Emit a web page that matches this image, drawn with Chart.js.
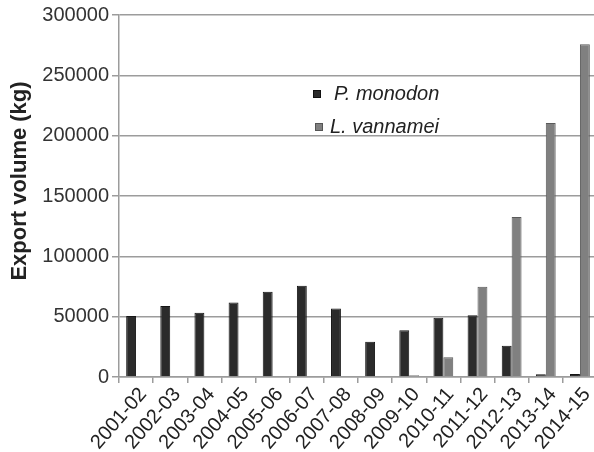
<!DOCTYPE html>
<html>
<head>
<meta charset="utf-8">
<script src="https://cdn.jsdelivr.net/npm/chart.js@4/dist/chart.umd.min.js"></script>
<style>
  html, body { margin: 0; padding: 0; background: #fff; overflow: hidden; }
  #wrap { width: 600px; height: 452px; }
</style>
</head>
<body>
<div id="wrap"><canvas id="c" width="600" height="452"></canvas></div>
<script>
// Shrimp export volume by financial year (kg)
const seasons = ['2001-02', '2002-03', '2003-04', '2004-05', '2005-06', '2006-07', '2007-08',
                 '2008-09', '2009-10', '2010-11', '2011-12', '2012-13', '2013-14', '2014-15'];
const monodon = [50500, 58900, 53300, 61700, 70600, 75600, 56700,
                 29200, 38800, 49200, 51200, 26000, 2200, 2500];
const vannamei = [0, 0, 0, 0, 0, 0, 0,
                  0, 1500, 16400, 74800, 132700, 210600, 275700];
const yTicks = [0, 50000, 100000, 150000, 200000, 250000, 300000];
const seriesNames = ['P. monodon', 'L. vannamei'];
const yTitle = 'Export volume (kg)';

const FONT = '"Liberation Sans", Arial, sans-serif';
const GRID = '#9c9c9c';
const MONO_FILL = '#2b2b2b';
const VANN_FILL = '#808080';

// Legend inside the plot area plus the rotated y-axis caption
const annotations = {
  id: 'annotations',
  afterDatasetsDraw(chart) {
    const ctx = chart.ctx;
    ctx.save();
    ctx.font = 'italic 20px ' + FONT;
    ctx.textBaseline = 'middle';
    ctx.textAlign = 'left';
    const items = [
      { text: seriesNames[0], fill: MONO_FILL, stroke: '#111', box: [313, 90], tx: 334, ty: 94 },
      { text: seriesNames[1], fill: VANN_FILL, stroke: '#555', box: [315, 123], tx: 330, ty: 127 }
    ];
    items.forEach(it => {
      ctx.fillStyle = it.fill;
      ctx.fillRect(it.box[0], it.box[1], 8, 8);
      ctx.strokeStyle = it.stroke;
      ctx.lineWidth = 1;
      ctx.strokeRect(it.box[0] + 0.5, it.box[1] + 0.5, 7, 7);
      ctx.fillStyle = '#222';
      ctx.fillText(it.text, it.tx, it.ty);
    });

    // y-axis caption
    ctx.translate(20, 181);
    ctx.rotate(-Math.PI / 2);
    ctx.font = 'bold 22px ' + FONT;
    ctx.textAlign = 'center';
    ctx.textBaseline = 'middle';
    ctx.fillStyle = '#222';
    ctx.fillText(yTitle, 0, 0);
    ctx.restore();
  }
};

new Chart(document.getElementById('c'), {
  type: 'bar',
  data: {
    labels: seasons,
    datasets: [
      {
        label: seriesNames[0],
        data: monodon,
        backgroundColor: MONO_FILL,
        borderColor: '#151515',
        borderWidth: 1,
        categoryPercentage: 0.58,
        barPercentage: 1.0
      },
      {
        label: seriesNames[1],
        data: vannamei,
        backgroundColor: VANN_FILL,
        borderColor: '#5a5a5a',
        borderWidth: 1,
        categoryPercentage: 0.58,
        barPercentage: 1.0
      }
    ]
  },
  options: {
    responsive: false,
    animation: false,
    devicePixelRatio: 1,
    layout: { padding: { top: 15, right: 3, left: 0, bottom: 0 } },
    plugins: {
      legend: { display: false },
      tooltip: { enabled: false }
    },
    scales: {
      x: {
        offset: true,
        grid: { drawOnChartArea: false, drawTicks: true, tickLength: 6, color: GRID, lineWidth: 1.5, offset: true },
        border: { color: GRID, width: 1.5 },
        ticks: {
          font: { family: FONT, size: 20 },
          color: '#222',
          minRotation: 49,
          maxRotation: 49,
          autoSkip: false,
          padding: 0,
          labelOffset: 7
        },
        afterFit(scale) { scale.height = 75; }
      },
      y: {
        min: 0,
        max: 300000,
        afterBuildTicks(scale) { scale.ticks = yTicks.map(v => ({ value: v })); },
        grid: { color: GRID, lineWidth: 1.5, tickLength: 7 },
        border: { color: GRID, width: 1.5 },
        ticks: {
          font: { family: FONT, size: 20 },
          color: '#333',
          padding: 3,
          callback: v => String(v)
        },
        afterFit(scale) { scale.width = 119; }
      }
    }
  },
  plugins: [annotations]
});
</script>
</body>
</html>
